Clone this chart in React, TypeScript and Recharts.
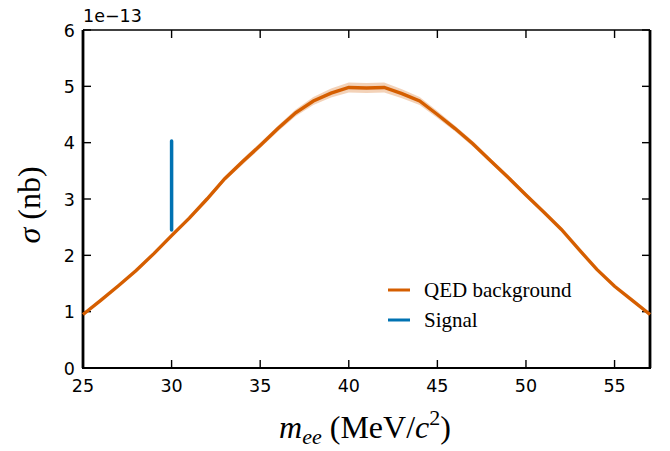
import { ComposedChart, Line, Area, XAxis, YAxis, Customized } from "recharts";

// invariant mass bins (MeV/c^2)
const mass = [
  25, 26, 27, 28, 29, 30, 31, 32, 33, 34, 35, 36, 37, 38, 39, 40, 41, 42, 43,
  44, 45, 46, 47, 48, 49, 50, 51, 52, 53, 54, 55, 56, 57,
];
// QED background cross section, units of 1e-13 nb
const qed = [
  0.95, 1.2, 1.46, 1.73, 2.03, 2.35, 2.66, 3.0, 3.36, 3.66, 3.95, 4.25, 4.53,
  4.74, 4.88, 4.98, 4.97, 4.98, 4.87, 4.74, 4.5, 4.25, 3.98, 3.68, 3.38, 3.07,
  2.77, 2.46, 2.1, 1.75, 1.45, 1.2, 0.95,
];
// uncertainty on the background
const qedErr = [
  0.02, 0.02, 0.02, 0.03, 0.03, 0.03, 0.03, 0.04, 0.04, 0.05, 0.05, 0.05, 0.06,
  0.07, 0.08, 0.09, 0.09, 0.09, 0.08, 0.07, 0.06, 0.05, 0.05, 0.04, 0.04, 0.04,
  0.03, 0.03, 0.03, 0.02, 0.02, 0.02, 0.02,
];
// signal peak at 30 MeV
const signalMass = [30, 30];
const signalXs = [2.45, 4.03];

const xTicks = [25, 30, 35, 40, 45, 50, 55];
const yTicks = [0, 1, 2, 3, 4, 5, 6];
const xRange = [25, 57];
const yRange = [0, 6];

const ORANGE = "#d55e00";
const BLUE = "#0072b2";
const TICK_FONT = "DejaVu Sans";
const SERIF = "Liberation Serif";
const TICK_LEN = 8;

// chart box: 670x451, margins + axis sizes below give this plot area
const W = 670;
const H = 451;
const MARGIN = { top: 30, right: 20, bottom: 0, left: 0 };
const X_AXIS_H = 83;
const Y_AXIS_W = 83;
const PLOT = {
  left: MARGIN.left + Y_AXIS_W,
  right: W - MARGIN.right,
  top: MARGIN.top,
  bottom: H - MARGIN.bottom - X_AXIS_H,
};

const bgData = mass.map((m, i) => ({
  m,
  qed: qed[i],
  band: [qed[i] - qedErr[i], qed[i] + qedErr[i]],
}));
const sigData = signalMass.map((m, i) => ({ m, sig: signalXs[i] }));

const XLabel = (props: any) => (
  <text
    x={props.x}
    y={props.y + 16}
    textAnchor="middle"
    fontFamily={TICK_FONT}
    fontSize={17.5}
    fill="#000"
  >
    {props.payload.value}
  </text>
);

const YLabel = (props: any) => (
  <text
    x={props.x}
    y={props.y + 6.5}
    textAnchor="end"
    fontFamily={TICK_FONT}
    fontSize={17.5}
    fill="#000"
  >
    {props.payload.value}
  </text>
);

// frame with inward ticks on all four sides
const Frame = () => {
  const px = (v: number) =>
    PLOT.left +
    ((v - xRange[0]) / (xRange[1] - xRange[0])) * (PLOT.right - PLOT.left);
  const py = (v: number) =>
    PLOT.bottom -
    ((v - yRange[0]) / (yRange[1] - yRange[0])) * (PLOT.bottom - PLOT.top);
  const tick = { stroke: "#000", strokeWidth: 1.4 };
  return (
    <g>
      {xTicks.map((t) => (
        <g key={`x${t}`}>
          <line x1={px(t)} x2={px(t)} y1={PLOT.bottom} y2={PLOT.bottom - TICK_LEN} {...tick} />
          <line x1={px(t)} x2={px(t)} y1={PLOT.top} y2={PLOT.top + TICK_LEN} {...tick} />
        </g>
      ))}
      {yTicks.map((t) => (
        <g key={`y${t}`}>
          <line y1={py(t)} y2={py(t)} x1={PLOT.left} x2={PLOT.left + TICK_LEN} {...tick} />
          <line y1={py(t)} y2={py(t)} x1={PLOT.right} x2={PLOT.right - TICK_LEN} {...tick} />
        </g>
      ))}
      <line x1={PLOT.left} x2={PLOT.right} y1={PLOT.top} y2={PLOT.top} stroke="#000" strokeWidth={1.6} />
      <line x1={PLOT.left - 1} x2={PLOT.right + 1} y1={PLOT.bottom} y2={PLOT.bottom} stroke="#000" strokeWidth={2.2} />
      <line x1={PLOT.left} x2={PLOT.left} y1={PLOT.top} y2={PLOT.bottom} stroke="#000" strokeWidth={2.8} />
      <line x1={PLOT.right} x2={PLOT.right} y1={PLOT.top} y2={PLOT.bottom} stroke="#000" strokeWidth={2.8} />
    </g>
  );
};

const Annotations = () => (
  <g>
    <Frame />
    <text x={83} y={22} fontFamily={TICK_FONT} fontSize={17.5} fill="#000">
      1e−13
    </text>
    <text
      x={365}
      y={438}
      textAnchor="middle"
      fontFamily={SERIF}
      fontSize={32}
      fill="#000"
    >
      <tspan fontStyle="italic">m</tspan>
      <tspan fontStyle="italic" fontSize={22} dy={6}>
        ee
      </tspan>
      <tspan dy={-6}> (MeV/</tspan>
      <tspan fontStyle="italic">c</tspan>
      <tspan fontSize={22} dy={-13}>
        2
      </tspan>
      <tspan dy={13}>)</tspan>
    </text>
    <text
      transform="translate(40,205) rotate(-90)"
      textAnchor="middle"
      fontFamily={SERIF}
      fontSize={32}
      fill="#000"
    >
      <tspan fontStyle="italic">σ</tspan> (nb)
    </text>
    {/* legend */}
    <line x1={388} y1={290} x2={410} y2={290} stroke={ORANGE} strokeWidth={3} />
    <text x={424} y={297} fontFamily={SERIF} fontSize={21} fill="#000">
      QED background
    </text>
    <line x1={388} y1={320} x2={410} y2={320} stroke={BLUE} strokeWidth={3} />
    <text x={424} y={327} fontFamily={SERIF} fontSize={21} fill="#000">
      Signal
    </text>
  </g>
);

export default function App() {
  return (
    <div style={{ position: "absolute", left: 0, top: 0 }}>
      <ComposedChart width={W} height={H} data={bgData} margin={MARGIN}>
        <XAxis
          dataKey="m"
          type="number"
          domain={xRange}
          ticks={xTicks}
          height={X_AXIS_H}
          tickSize={6}
          tick={<XLabel />}
          tickLine={false}
          axisLine={false}
        />
        <YAxis
          type="number"
          domain={yRange}
          ticks={yTicks}
          width={Y_AXIS_W}
          tickSize={6}
          tick={<YLabel />}
          tickLine={false}
          axisLine={false}
        />
        <Area
          dataKey="band"
          type="linear"
          stroke="none"
          fill={ORANGE}
          fillOpacity={0.28}
          isAnimationActive={false}
        />
        <Line
          dataKey="qed"
          type="linear"
          stroke={ORANGE}
          strokeWidth={3.4}
          dot={false}
          isAnimationActive={false}
        />
        <Line
          data={sigData}
          dataKey="sig"
          type="linear"
          stroke={BLUE}
          strokeWidth={3.5}
          strokeLinecap="round"
          dot={false}
          isAnimationActive={false}
        />
        <Customized component={Annotations} />
      </ComposedChart>
    </div>
  );
}
